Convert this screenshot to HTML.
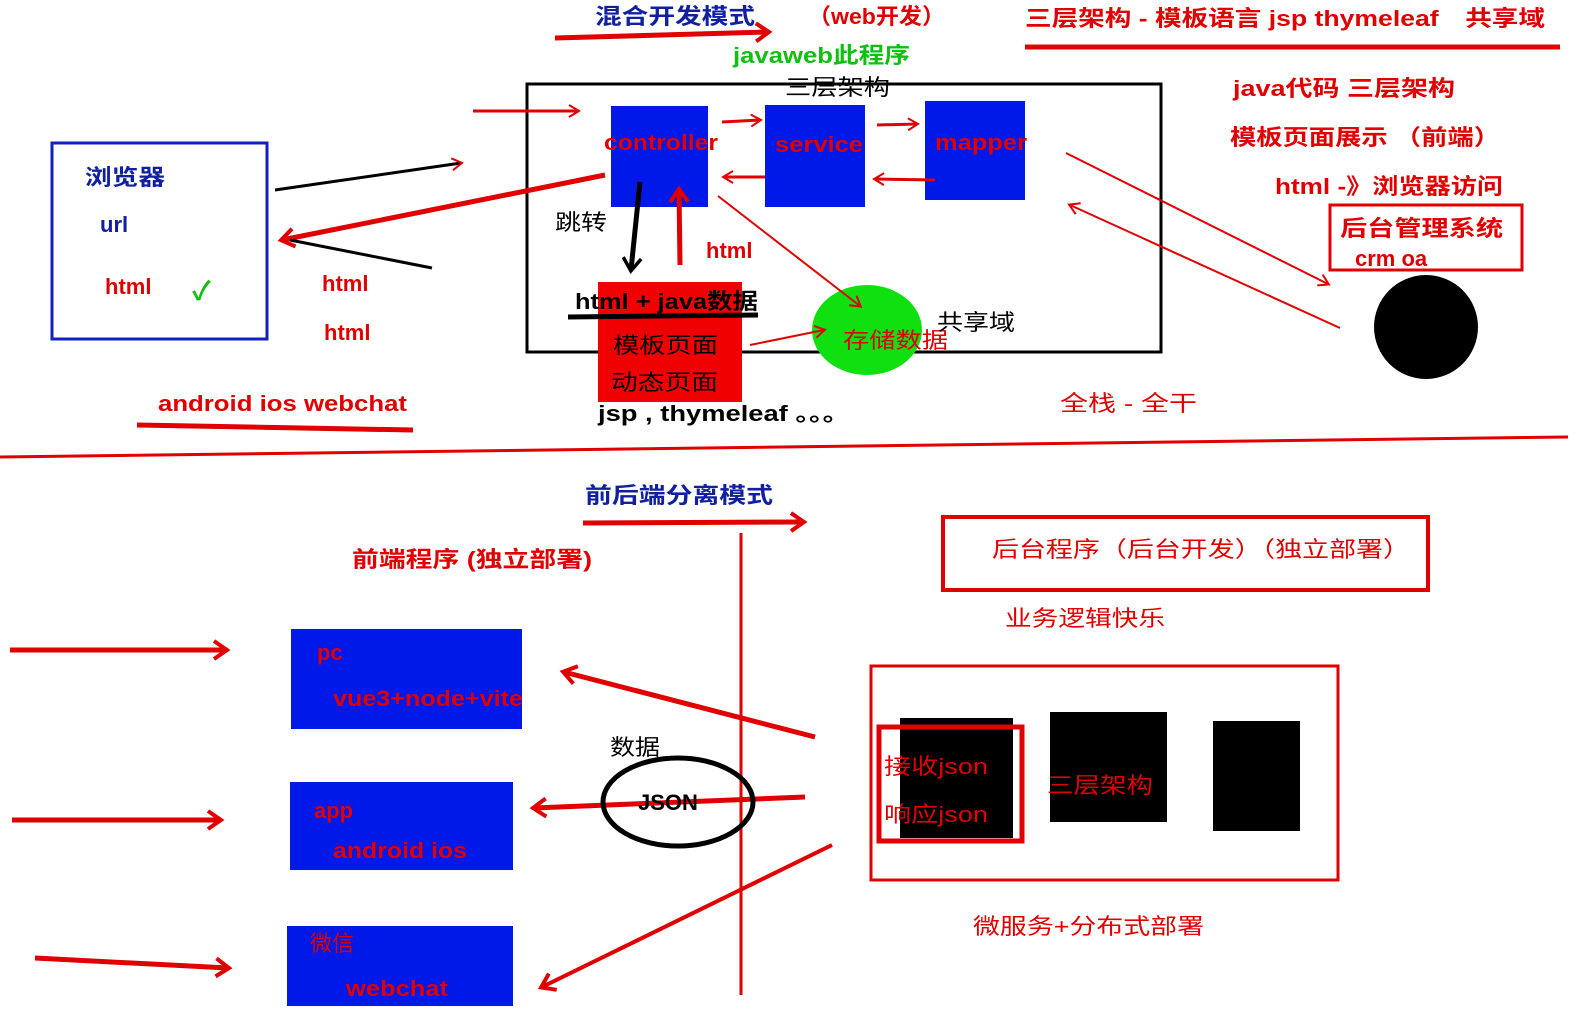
<!DOCTYPE html>
<html><head><meta charset="utf-8"><style>
html,body{margin:0;padding:0;background:#fff;}
svg{display:block}
text{font-family:"Liberation Sans","Noto Sans CJK SC",sans-serif;font-weight:bold;font-size:22px;}
.r{fill:#e00000}.b{fill:#1020a0}.k{fill:#000}.g{fill:#10c010}
</style></head><body>
<svg width="1576" height="1016" viewBox="0 0 1576 1016" xmlns="http://www.w3.org/2000/svg">
<defs>
<marker id="ar" markerWidth="24" markerHeight="24" refX="16" refY="12" orient="auto" markerUnits="userSpaceOnUse"><path d="M4,3 L17,12 L4,21" fill="none" stroke="#e00000" stroke-width="4"/></marker>
<marker id="ak" markerWidth="24" markerHeight="24" refX="16" refY="12" orient="auto" markerUnits="userSpaceOnUse"><path d="M4,3 L17,12 L4,21" fill="none" stroke="#000" stroke-width="3.5"/></marker>
<marker id="as" markerWidth="16" markerHeight="16" refX="11" refY="8" orient="auto" markerUnits="userSpaceOnUse"><path d="M2,2 L12,8 L2,14" fill="none" stroke="#e00000" stroke-width="2"/></marker>
</defs>
<text x="595" y="24" class="b" textLength="160" lengthAdjust="spacingAndGlyphs">混合开发模式</text>
<text x="808" y="24" class="r" textLength="137" lengthAdjust="spacingAndGlyphs">（web开发）</text>
<text x="1025" y="26" class="r" textLength="520" lengthAdjust="spacingAndGlyphs">三层架构 - 模板语言 jsp thymeleaf　共享域</text>
<line x1="555" y1="38" x2="768" y2="32" stroke="#e00000" stroke-width="5" marker-end="url(#ar)"/>
<line x1="1025" y1="47" x2="1560" y2="47" stroke="#e00000" stroke-width="5"/>
<text x="733" y="63" class="g" textLength="177" lengthAdjust="spacingAndGlyphs">javaweb此程序</text>
<text x="785" y="95" class="k" style="font-weight:normal" textLength="105" lengthAdjust="spacingAndGlyphs">三层架构</text>
<rect x="527" y="84" width="634" height="268" fill="none" stroke="#000" stroke-width="3"/>
<rect x="611" y="106" width="97" height="101" fill="#0018e8"/>
<rect x="765" y="105" width="100" height="102" fill="#0018e8"/>
<rect x="925" y="101" width="100" height="99" fill="#0018e8"/>
<text x="604" y="150" class="r" textLength="114" lengthAdjust="spacingAndGlyphs">controller</text>
<text x="775" y="152" class="r" textLength="88" lengthAdjust="spacingAndGlyphs">service</text>
<text x="935" y="150" class="r" textLength="92" lengthAdjust="spacingAndGlyphs">mapper</text>
<line x1="722" y1="122" x2="760" y2="120" stroke="#e00000" stroke-width="3" marker-end="url(#as)"/>
<line x1="765" y1="177" x2="724" y2="177" stroke="#e00000" stroke-width="3" marker-end="url(#as)"/>
<line x1="877" y1="125" x2="917" y2="124" stroke="#e00000" stroke-width="3" marker-end="url(#as)"/>
<line x1="935" y1="180" x2="875" y2="179" stroke="#e00000" stroke-width="3" marker-end="url(#as)"/>
<rect x="52" y="143" width="215" height="196" fill="none" stroke="#1020c0" stroke-width="3"/>
<text x="85" y="185" class="b" textLength="80" lengthAdjust="spacingAndGlyphs">浏览器</text>
<text x="100" y="232" class="b">url</text>
<text x="105" y="294" class="r">html</text>
<text x="192" y="300" class="g" style="font-size:26px">✓</text>
<line x1="473" y1="111" x2="578" y2="111" stroke="#e00000" stroke-width="3" marker-end="url(#as)"/>
<line x1="275" y1="190" x2="461" y2="163" stroke="#000" stroke-width="3" marker-end="url(#as)"/>
<line x1="605" y1="175" x2="282" y2="240" stroke="#e00000" stroke-width="5" marker-end="url(#ar)"/>
<line x1="290" y1="240" x2="432" y2="268" stroke="#000" stroke-width="3"/>
<text x="322" y="291" class="r">html</text>
<text x="324" y="340" class="r">html</text>
<text x="555" y="230" class="k" style="font-weight:normal" textLength="52" lengthAdjust="spacingAndGlyphs">跳转</text>
<line x1="640" y1="182" x2="631" y2="270" stroke="#000" stroke-width="5" marker-end="url(#ak)"/>
<line x1="680" y1="265" x2="679" y2="190" stroke="#e00000" stroke-width="5" marker-end="url(#ar)"/>
<text x="706" y="258" class="r">html</text>
<rect x="598" y="282" width="144" height="120" fill="#f00000"/>
<line x1="568" y1="317" x2="758" y2="315" stroke="#000" stroke-width="5"/>
<text x="575" y="309" class="k" textLength="183" lengthAdjust="spacingAndGlyphs">html + java数据</text>
<text x="613" y="353" class="k" style="font-weight:normal" textLength="105" lengthAdjust="spacingAndGlyphs">模板页面</text>
<text x="611" y="390" class="k" style="font-weight:normal" textLength="107" lengthAdjust="spacingAndGlyphs">动态页面</text>
<text x="598" y="421" class="k" textLength="252" lengthAdjust="spacingAndGlyphs">jsp , thymeleaf 。。。</text>
<ellipse cx="867" cy="330" rx="55" ry="45" fill="#10e010"/>
<text x="843" y="348" class="r" style="font-weight:normal" textLength="105" lengthAdjust="spacingAndGlyphs">存储数据</text>
<text x="937" y="330" class="k" style="font-weight:normal" textLength="78" lengthAdjust="spacingAndGlyphs">共享域</text>
<line x1="718" y1="196" x2="860" y2="306" stroke="#e00000" stroke-width="2" marker-end="url(#as)"/>
<line x1="750" y1="345" x2="824" y2="330" stroke="#e00000" stroke-width="2" marker-end="url(#as)"/>
<text x="1233" y="96" class="r" textLength="222" lengthAdjust="spacingAndGlyphs">java代码 三层架构</text>
<text x="1230" y="145" class="r" textLength="270" lengthAdjust="spacingAndGlyphs">模板页面展示 （前端）</text>
<text x="1275" y="194" class="r" textLength="228" lengthAdjust="spacingAndGlyphs">html -》浏览器访问</text>
<rect x="1330" y="205" width="192" height="65" fill="none" stroke="#e00000" stroke-width="3"/>
<text x="1340" y="236" class="r" textLength="163" lengthAdjust="spacingAndGlyphs">后台管理系统</text>
<text x="1355" y="266" class="r">crm oa</text>
<circle cx="1426" cy="327" r="52" fill="#000"/>
<line x1="1066" y1="153" x2="1328" y2="284" stroke="#e00000" stroke-width="2" marker-end="url(#as)"/>
<line x1="1340" y1="328" x2="1070" y2="205" stroke="#e00000" stroke-width="2" marker-end="url(#as)"/>
<text x="1060" y="411" class="r" style="font-weight:normal" textLength="137" lengthAdjust="spacingAndGlyphs">全栈 - 全干</text>
<text x="158" y="411" class="r" textLength="249" lengthAdjust="spacingAndGlyphs">android  ios webchat</text>
<line x1="137" y1="425" x2="413" y2="430" stroke="#e00000" stroke-width="5"/>
<line x1="0" y1="457" x2="1568" y2="437" stroke="#e00000" stroke-width="3"/>
<text x="585" y="503" class="b" textLength="188" lengthAdjust="spacingAndGlyphs">前后端分离模式</text>
<line x1="583" y1="523" x2="803" y2="522" stroke="#e00000" stroke-width="5" marker-end="url(#ar)"/>
<text x="352" y="567" class="r" textLength="240" lengthAdjust="spacingAndGlyphs">前端程序 (独立部署)</text>
<line x1="741" y1="533" x2="741" y2="995" stroke="#e00000" stroke-width="3"/>
<rect x="943" y="517" width="485" height="73" fill="none" stroke="#e00000" stroke-width="4"/>
<text x="992" y="557" class="r" style="font-weight:normal" textLength="418" lengthAdjust="spacingAndGlyphs">后台程序（后台开发）（独立部署）</text>
<text x="1005" y="626" class="r" style="font-weight:normal" textLength="160" lengthAdjust="spacingAndGlyphs">业务逻辑快乐</text>
<rect x="291" y="629" width="231" height="100" fill="#0018e8"/>
<rect x="290" y="782" width="223" height="88" fill="#0018e8"/>
<rect x="287" y="926" width="226" height="80" fill="#0018e8"/>
<text x="317" y="660" class="r">pc</text>
<text x="333" y="706" class="r" textLength="190" lengthAdjust="spacingAndGlyphs">vue3+node+vite</text>
<text x="314" y="818" class="r">app</text>
<text x="333" y="858" class="r" textLength="134" lengthAdjust="spacingAndGlyphs">android ios</text>
<text x="310" y="951" class="r" style="font-weight:normal">微信</text>
<text x="346" y="996" class="r" textLength="102" lengthAdjust="spacingAndGlyphs">webchat</text>
<line x1="10" y1="650" x2="226" y2="650" stroke="#e00000" stroke-width="5" marker-end="url(#ar)"/>
<line x1="12" y1="820" x2="220" y2="820" stroke="#e00000" stroke-width="5" marker-end="url(#ar)"/>
<line x1="35" y1="958" x2="228" y2="968" stroke="#e00000" stroke-width="5" marker-end="url(#ar)"/>
<line x1="815" y1="737" x2="564" y2="672" stroke="#e00000" stroke-width="5" marker-end="url(#ar)"/>
<line x1="805" y1="797" x2="534" y2="808" stroke="#e00000" stroke-width="5" marker-end="url(#ar)"/>
<text x="610" y="755" class="k" style="font-weight:normal" textLength="50" lengthAdjust="spacingAndGlyphs">数据</text>
<ellipse cx="678" cy="802" rx="75" ry="44" fill="none" stroke="#000" stroke-width="5"/>
<text x="638" y="810" class="k">JSON</text>
<line x1="832" y1="845" x2="542" y2="987" stroke="#e00000" stroke-width="4" marker-end="url(#ar)"/>
<rect x="871" y="666" width="467" height="214" fill="none" stroke="#e00000" stroke-width="3"/>
<rect x="900" y="718" width="113" height="120" fill="#000"/>
<rect x="1050" y="712" width="117" height="110" fill="#000"/>
<rect x="1213" y="721" width="87" height="110" fill="#000"/>
<rect x="879" y="727" width="143" height="114" fill="none" stroke="#e00000" stroke-width="5"/>
<text x="884" y="774" class="r" style="font-weight:normal" textLength="104" lengthAdjust="spacingAndGlyphs">接收json</text>
<text x="884" y="822" class="r" style="font-weight:normal" textLength="104" lengthAdjust="spacingAndGlyphs">响应json</text>
<text x="1047" y="793" class="r" style="font-weight:normal" textLength="106" lengthAdjust="spacingAndGlyphs">三层架构</text>
<text x="973" y="934" class="r" style="font-weight:normal" textLength="231" lengthAdjust="spacingAndGlyphs">微服务+分布式部署</text>
</svg>
</body></html>
